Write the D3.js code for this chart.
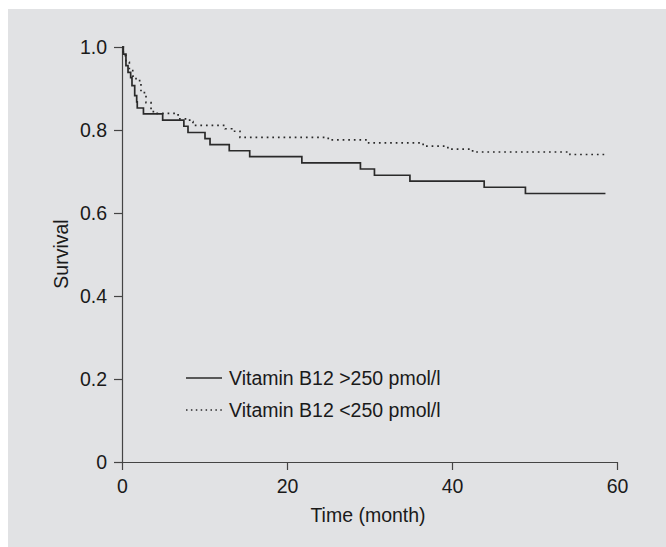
<!DOCTYPE html>
<html>
<head>
<meta charset="utf-8">
<script src="https://cdn.jsdelivr.net/npm/d3@7"></script>
<style>
  body { margin: 0; background: #ffffff; }
  svg text { font-family: 'Liberation Sans', Arial, sans-serif; fill: #1a1a1a; }
</style>
</head>
<body>
<svg id="canvas" width="666" height="547"></svg>
<script>
'use strict';

/* survival steps: [month, survival] */
const highB12 = [
  [0, 1.0], [0.16, 0.983], [0.48, 0.955], [0.73, 0.939], [1.05, 0.926],
  [1.21, 0.907], [1.54, 0.883], [1.78, 0.868], [1.85, 0.853], [2.6, 0.839],
  [4.93, 0.824], [7.5, 0.809], [8.0, 0.794], [10.06, 0.779], [10.67, 0.765],
  [13.0, 0.750], [15.48, 0.736], [21.8, 0.721], [28.9, 0.706], [30.6, 0.691],
  [34.9, 0.677], [43.9, 0.662], [48.9, 0.647], [58.6, 0.647]
];
const lowB12 = [
  [0, 1.0], [0.16, 0.979], [0.48, 0.963], [0.89, 0.943], [1.3, 0.930],
  [1.7, 0.919], [2.3, 0.890], [2.91, 0.866], [3.52, 0.847], [3.8, 0.840],
  [6.8, 0.827], [8.2, 0.820], [8.6, 0.811], [12.5, 0.803], [13.3, 0.797],
  [14.3, 0.782], [25.0, 0.776], [29.9, 0.769], [36.5, 0.761], [39.5, 0.754],
  [42.5, 0.747], [54.3, 0.741], [58.6, 0.741]
];
const xTicks = [0, 20, 40, 60];
const yTicks = [0, 0.2, 0.4, 0.6, 0.8, 1.0];
const yTickLabels = ['0', '0.2', '0.4', '0.6', '0.8', '1.0'];
const seriesNames = ['Vitamin B12 >250 pmol/l', 'Vitamin B12 <250 pmol/l'];

const svg = d3.select('svg#canvas');
const fontSize = 19.5;

/* grey panel behind the whole figure */
svg.append('rect')
  .attr('x', 8).attr('y', 9)
  .attr('width', 666 - 8).attr('height', 547 - 9)
  .style('fill', '#e1e2e4');

/* scales */
const x = d3.scaleLinear().domain([0, 60]).range([122, 617]);
const y = d3.scaleLinear().domain([0, 1]).range([462, 47]);

/* axes */
const xAxis = svg.append('g')
  .attr('transform', 'translate(0,' + y(0) + ')')
  .call(d3.axisBottom(x).tickValues(xTicks).tickSize(8).tickSizeOuter(0).tickPadding(9));
const yAxis = svg.append('g')
  .attr('transform', 'translate(' + x(0) + ',0)')
  .call(d3.axisLeft(y).tickValues(yTicks).tickSize(8).tickSizeOuter(0).tickPadding(7)
    .tickFormat(function(d, i){ return yTickLabels[i]; }));

[xAxis, yAxis].forEach(function(ax){
  ax.select('.domain').style('stroke', '#444').style('stroke-width', 1.2);
  ax.selectAll('.tick line').style('stroke', '#444').style('stroke-width', 1.2);
  ax.selectAll('.tick text')
    .style('font-size', fontSize + 'px')
    .style('font-family', "'Liberation Sans', Arial, sans-serif")
    .style('fill', '#1a1a1a');
});

/* axis titles */
svg.append('text')
  .attr('x', 368).attr('y', 522)
  .attr('text-anchor', 'middle')
  .style('font-size', fontSize + 'px')
  .text('Time (month)');
svg.append('text')
  .attr('transform', 'translate(68,254) rotate(-90)')
  .attr('text-anchor', 'middle')
  .style('font-size', fontSize + 'px')
  .text('Survival');

/* the two Kaplan-Meier curves */
const line = d3.line()
  .x(function(d){ return x(d[0]); })
  .y(function(d){ return y(d[1]); })
  .curve(d3.curveStepAfter);

svg.append('path')
  .datum(highB12)
  .attr('d', line)
  .style('fill', 'none')
  .style('stroke', '#2a2a2a')
  .style('stroke-width', 1.7);

svg.append('path')
  .datum(lowB12)
  .attr('d', line)
  .style('fill', 'none')
  .style('stroke', '#2a2a2a')
  .style('stroke-width', 1.7)
  .style('stroke-dasharray', '1.7,3.9');

/* legend */
const legend = svg.append('g');
const rows = legend.selectAll('g')
  .data(seriesNames)
  .enter().append('g')
  .attr('transform', function(d, i){ return 'translate(0,' + (378 + i * 32) + ')'; });
rows.append('line')
  .attr('x1', 186).attr('x2', 222)
  .attr('y1', 0).attr('y2', 0)
  .style('stroke', '#2a2a2a')
  .style('stroke-width', 1.5)
  .style('stroke-dasharray', function(d, i){ return i === 1 ? '1.5,3.4' : null; });
rows.append('text')
  .attr('x', 229).attr('y', 0)
  .attr('dy', '0.36em')
  .style('font-size', fontSize + 'px')
  .text(function(d){ return d; });
</script>
</body>
</html>
